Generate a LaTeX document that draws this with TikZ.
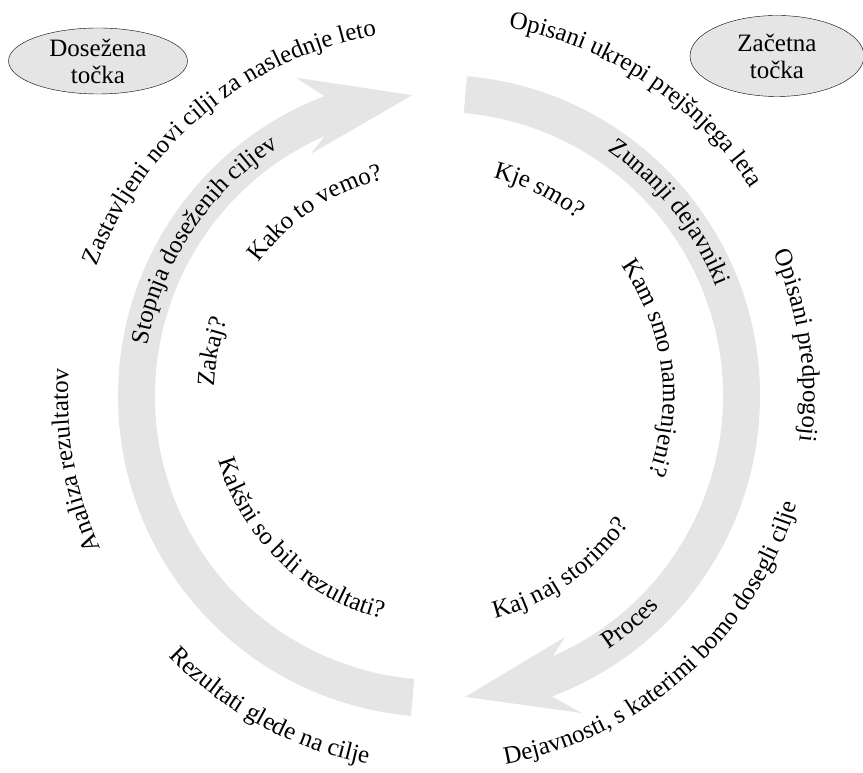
\documentclass[tikz,border=0pt]{standalone}
\usepackage{fontspec}
\setmainfont{Liberation Serif}
\usepackage{tikz}
\usetikzlibrary{shapes.geometric,decorations.text}
\usepackage{xcolor}

\definecolor{ringgray}{RGB}{229,229,229}

% text on a ring: radius, middle angle, text
\newcommand{\cwtext}[3]{\path[decorate,decoration={text along path,text align=center,text={#3}}]
	(#2+80:#1) arc[start angle=#2+80,end angle=#2-80,radius=#1];}
\newcommand{\ccwtext}[3]{\path[decorate,decoration={text along path,text align=center,text={#3}}]
	(#2-80:#1) arc[start angle=#2-80,end angle=#2+80,radius=#1];}

\begin{document}
\begin{tikzpicture}[x=1pt,y=1pt,semithick]
				\tikzstyle{point}=
				[ellipse,draw=black,thin,fill=ringgray,align=center,inner sep=0pt,
				font=\fontsize{25}{27}\selectfont]
				\tikzstyle{band}=[fill=ringgray,draw=none]
				\fontsize{25}{27}\selectfont
				
				\useasboundingbox (0,0) rectangle (863,773);
				
				\node[point,minimum width=179,minimum height=66] (reached) at (98,712) {Dosežena\\točka};
				\node[point,minimum width=174,minimum height=81] (start) at (777,717) {Začetna\\točka};
				
				\begin{scope}[shift={(439,377)}]
				% the two arrows
				\fill[band] (85:321) arc[start angle=85,end angle=-69.4,radius=321]
					-- (-65.7:348) -- (-85:302) -- (-62.4:272) -- (-66.4:284)
					arc[start angle=-66.4,end angle=85,radius=284] -- cycle;
				\fill[band] (265:321) arc[start angle=265,end angle=110.9,radius=321]
					-- (114.2:349) -- (95.1:302) -- (117.9:274) -- (113.7:284)
					arc[start angle=113.7,end angle=265,radius=284] -- cycle;
				
				% outer ring
				\cwtext{366}{129.5}{Zastavljeni novi cilji za naslednje leto}
				\cwtext{375}{56.5}{Opisani ukrepi prejšnjega leta}
				\cwtext{364}{8}{Opisani predpogoji}
				\cwtext{371}{190}{Analiza rezultatov}
				\ccwtext{375}{241.5}{Rezultati glede na cilje}
				\ccwtext{374}{-48.3}{Dejavnosti, s katerimi bomo dosegli cilje}
				
				% on the arrows
				\cwtext{296}{146.5}{Stopnja doseženih ciljev}
				\cwtext{298}{38.5}{Zunanji dejavniki}
				\ccwtext{305}{-50}{Proces}
				
				% inner ring
				\cwtext{224}{124}{Kako to vemo?}
				\cwtext{225}{64}{Kje smo?}
				\cwtext{224}{7.6}{Kam smo namenjeni?}
				\cwtext{225}{169}{Zakaj?}
				\ccwtext{230}{226}{Kakšni so bili rezultati?}
				\ccwtext{229}{-55}{Kaj naj storimo?}
				\end{scope}
			\end{tikzpicture}
\end{document}
